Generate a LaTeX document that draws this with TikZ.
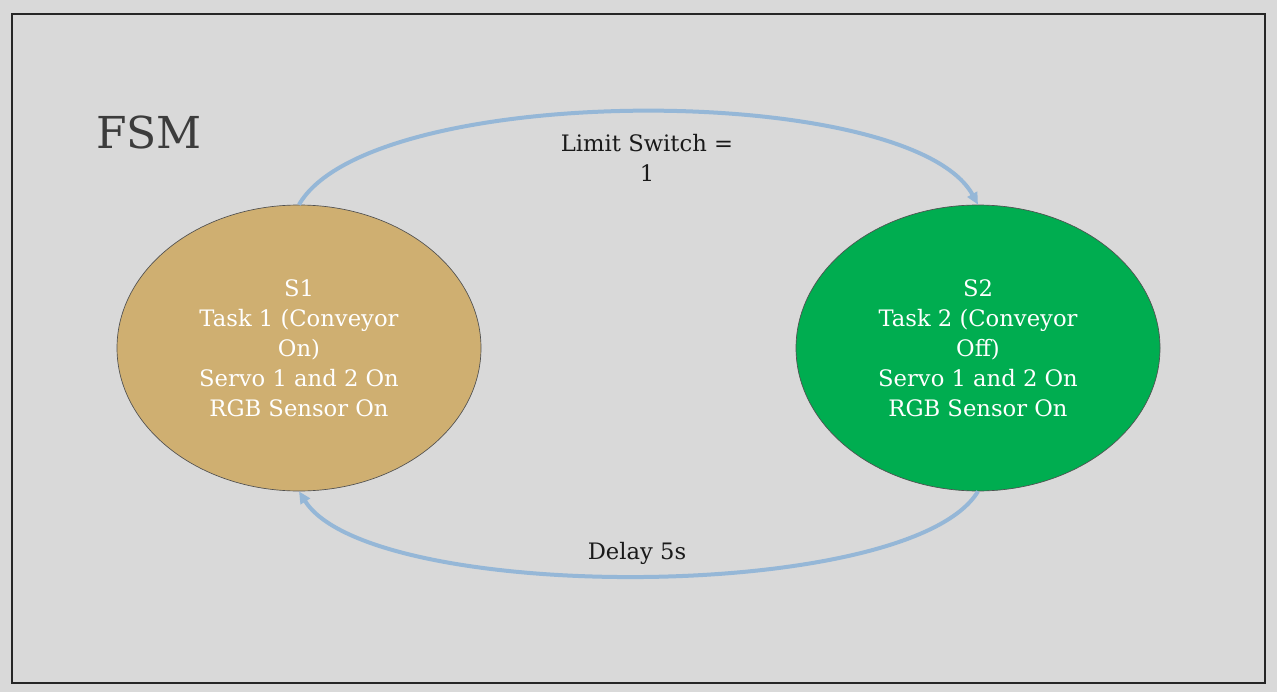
\documentclass[tikz,border=0pt]{standalone}
\usepackage{fontspec}
\setmainfont{DejaVu Serif}
\usetikzlibrary{arrows.meta,shapes.geometric}
\definecolor{bg}{HTML}{D9D9D9}
\definecolor{frame}{HTML}{262626}
\definecolor{tan}{HTML}{CFAF71}
\definecolor{grn}{HTML}{00AD50}
\definecolor{arc}{HTML}{95B7D7}
\definecolor{txt}{HTML}{1A1A1A}
\tikzset{
  state/.style={ellipse, draw=frame!80, line width=0.5pt, minimum width=273pt, minimum height=214.5pt, text=white, align=center, font=\fontsize{17}{22.5}\selectfont, inner sep=0pt},
  trans/.style={draw=arc, line width=3pt, -{Triangle[length=9pt,width=8pt]}},
  lbl/.style={text=txt, align=center, font=\fontsize{17}{22.5}\selectfont}
}
\begin{document}
\begin{tikzpicture}[x=0.75pt,y=-0.75pt]
\fill[bg] (0,0) rectangle (1277,692);
\useasboundingbox (0,0) rectangle (1277,692);
\draw[frame, line width=0.9pt] (12,14) rectangle (1265,683);
\node[text=frame!90, font=\fontsize{33}{40}\selectfont] (fsm) at (149,132) {FSM};
\node[state, fill=tan] (s1) at (299,348) {S1\\Task 1 (Conveyor\\On)\\Servo 1 and 2 On\\RGB Sensor On};
\node[state, fill=grn] (s2) at (978,348) {S2\\Task 2 (Conveyor\\Off)\\Servo 1 and 2 On\\RGB Sensor On};
\draw[trans] (s1.north) .. controls (370,81) and (910,81) .. (s2.north);
\draw[trans] (s2.south) .. controls (910,604) and (370,604) .. (s1.south);
\node[lbl] (l1) at (647,158) {Limit Switch =\\1};
\node[lbl] (l2) at (637,553) {Delay 5s};
\end{tikzpicture}
\end{document}
